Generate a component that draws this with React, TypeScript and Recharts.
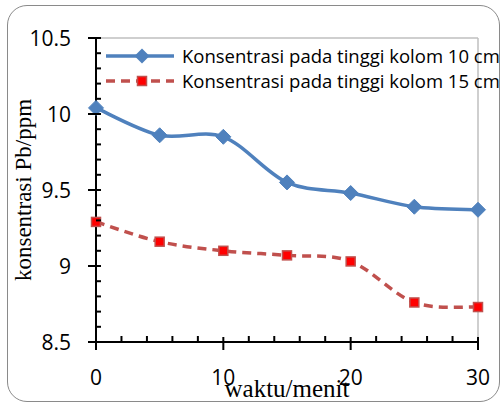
import React from 'react';
import { LineChart, Line, XAxis, YAxis, ReferenceLine, Legend } from 'recharts';

const time = [0, 5, 10, 15, 20, 25, 30];
const conc10 = [10.04, 9.86, 9.85, 9.55, 9.48, 9.39, 9.37];
const conc15 = [9.29, 9.16, 9.1, 9.07, 9.03, 8.76, 8.73];
const xTicks = [0, 2, 4, 6, 8, 10, 12, 14, 16, 18, 20, 22, 24, 26, 28, 30];
const yTicks = [8.5, 8.6, 8.7, 8.8, 8.9, 9, 9.1, 9.2, 9.3, 9.4, 9.5, 9.6, 9.7, 9.8, 9.9, 10, 10.1, 10.2, 10.3, 10.4, 10.5];
const series10Name = 'Konsentrasi pada tinggi kolom 10 cm';
const series15Name = 'Konsentrasi pada tinggi kolom 15 cm';
const xTitle = 'waktu/menit';
const yTitle = 'konsentrasi Pb/ppm';

const data = time.map((t, i) => ({ t, a: conc10[i], b: conc15[i] }));

const BLUE = '#4F81BD';
const RED = '#C0504D';
const TICK_FONT = '"Open Sans", sans-serif';
const SERIF = '"Liberation Serif", "Times New Roman", serif';

function smoothCurve(context: any) {
  let pts: number[][] = [];
  return {
    areaStart() {},
    areaEnd() {},
    lineStart() { pts = []; },
    point(x: number, y: number) { pts.push([+x, +y]); },
    lineEnd() {
      if (!pts.length) return;
      context.moveTo(pts[0][0], pts[0][1]);
      for (let i = 0; i < pts.length - 1; i++) {
        const p0 = pts[i - 1] || pts[i];
        const p1 = pts[i];
        const p2 = pts[i + 1];
        const p3 = pts[i + 2] || p2;
        context.bezierCurveTo(
          p1[0] + (p2[0] - p0[0]) / 6, p1[1] + (p2[1] - p0[1]) / 6,
          p2[0] - (p3[0] - p1[0]) / 6, p2[1] - (p3[1] - p1[1]) / 6,
          p2[0], p2[1]
        );
      }
    },
  };
}

const Diamond = (props: any) => {
  const { cx, cy, index } = props;
  if (cx == null || cy == null) return <g key={`d${index}`} />;
  const r = 7.5;
  return (
    <path key={`d${index}`} d={`M${cx},${cy - r}L${cx + r},${cy}L${cx},${cy + r}L${cx - r},${cy}Z`} fill={BLUE} stroke={BLUE} strokeWidth={1} />
  );
};

const Square = (props: any) => {
  const { cx, cy, index } = props;
  if (cx == null || cy == null) return <g key={`s${index}`} />;
  const s = 4.5;
  return <rect key={`s${index}`} x={cx - s} y={cy - s} width={2 * s} height={2 * s} fill="#FF0000" stroke={RED} strokeWidth={1.5} />;
};

const XTick = (props: any) => {
  const { x, y, payload } = props;
  const v = payload.value;
  const major = v % 10 === 0;
  return (
    <g>
      {major ? (
        <line x1={x} x2={x} y1={y - 5} y2={y + 8} stroke="#000" strokeWidth={2} />
      ) : (
        <line x1={x} x2={x} y1={y - 6} y2={y} stroke="#000" strokeWidth={2} />
      )}
      {major && (
        <text x={x} y={y + 35} textAnchor="middle" dominantBaseline="central" fontFamily={TICK_FONT} fontSize={21} fill="#000">
          {v}
        </text>
      )}
    </g>
  );
};

const YTick = (props: any) => {
  const { x, y, payload } = props;
  const v = payload.value;
  const major = Math.abs(v * 2 - Math.round(v * 2)) < 1e-6;
  return (
    <g>
      {major ? (
        <line x1={x - 8} x2={x + 5} y1={y} y2={y} stroke="#000" strokeWidth={2} />
      ) : (
        <line x1={x} x2={x + 5} y1={y} y2={y} stroke="#000" strokeWidth={2} />
      )}
      {major && (
        <text x={x - 25} y={y} textAnchor="end" dominantBaseline="central" fontFamily={TICK_FONT} fontSize={21} fill="#000">
          {String(Number(v.toFixed(1)))}
        </text>
      )}
    </g>
  );
};

const XTitle = (props: any) => {
  const vb = props.viewBox;
  return (
    <text x={vb.x + vb.width / 2} y={vb.y + 55} textAnchor="middle" fontFamily={SERIF} fontSize={25} fill="#000">
      {xTitle}
    </text>
  );
};

const YTitle = (props: any) => {
  const vb = props.viewBox;
  const cx = vb.x + 31;
  const cy = vb.y + vb.height / 2;
  return (
    <text x={cx} y={cy} transform={`rotate(-90 ${cx} ${cy})`} textAnchor="middle" fontFamily={SERIF} fontSize={23} fill="#000">
      {yTitle}
    </text>
  );
};

const LegendContent = () => {
  const rows = [
    { name: series10Name, color: BLUE, dashed: false },
    { name: series15Name, color: RED, dashed: true },
  ];
  return (
    <div style={{ display: 'flex', flexDirection: 'column' }}>
      {rows.map((r) => (
        <div key={r.name} style={{ display: 'flex', alignItems: 'center', height: 25, whiteSpace: 'nowrap' }}>
          <svg width={78} height={20} style={{ display: 'block' }}>
            <line x1={2} x2={70} y1={10} y2={10} stroke={r.color} strokeWidth={3.5} strokeDasharray={r.dashed ? '9 6' : undefined} />
            {r.dashed ? (
              <rect x={33.5} y={5.5} width={9} height={9} fill="#FF0000" stroke={RED} strokeWidth={1.5} />
            ) : (
              <path d="M38,2.5L45.5,10L38,17.5L30.5,10Z" fill={BLUE} />
            )}
          </svg>
          <span style={{ fontFamily: TICK_FONT, fontSize: 18.5, color: '#000', lineHeight: '20px' }}>{r.name}</span>
        </div>
      ))}
    </div>
  );
};

export default function App() {
  return (
    <div style={{ position: 'absolute', left: 0, top: 0, width: 502, height: 405, background: '#fff' }}>
      <div
        style={{
          position: 'absolute', left: 7, top: 5, width: 491, height: 395,
          border: '1.5px solid #8a8a8a', borderRadius: 20,
        }}
      />
      <div style={{ position: 'absolute', left: 0, top: 0 }}>
        <LineChart width={502} height={405} data={data} margin={{ top: 38, right: 24, bottom: 23, left: 0 }}>
          <XAxis
            dataKey="t"
            type="number"
            domain={[0, 30]}
            ticks={xTicks}
            interval={0}
            tickSize={0}
            tickMargin={0}
            tickLine={false}
            axisLine={{ stroke: '#000', strokeWidth: 2 }}
            tick={<XTick />}
            height={40}
            label={<XTitle />}
          />
          <YAxis
            type="number"
            domain={[8.5, 10.5]}
            ticks={yTicks}
            interval={0}
            tickSize={0}
            tickMargin={0}
            tickLine={false}
            axisLine={{ stroke: '#000', strokeWidth: 2 }}
            tick={<YTick />}
            width={96}
            allowDataOverflow
            label={<YTitle />}
          />
          <ReferenceLine y={10.5} stroke="#BFBFBF" strokeWidth={1.5} />
          <ReferenceLine x={30} stroke="#BFBFBF" strokeWidth={1.5} />
          <Legend
            layout="horizontal"
            verticalAlign="middle"
            align="center"
            content={<LegendContent />}
            wrapperStyle={{ position: 'absolute', left: 104, top: 43, width: 'auto', height: 'auto' }}
          />
          <Line
            dataKey="a"
            name={series10Name}
            type={smoothCurve as any}
            stroke={BLUE}
            strokeWidth={3.5}
            dot={Diamond}
            activeDot={false}
            isAnimationActive={false}
          />
          <Line
            dataKey="b"
            name={series15Name}
            type={smoothCurve as any}
            stroke={RED}
            strokeWidth={3.5}
            strokeDasharray="9 6"
            dot={Square}
            activeDot={false}
            isAnimationActive={false}
          />
        </LineChart>
      </div>
    </div>
  );
}
